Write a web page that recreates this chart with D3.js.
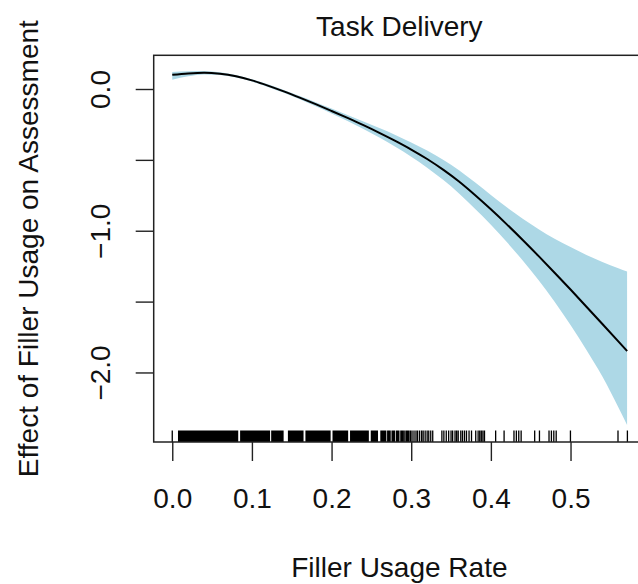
<!doctype html>
<html lang="en">
<head>
<meta charset="UTF-8">
<title>Task Delivery</title>
<style>
  body { margin: 0; background: #fff; }
  svg { display: block; font-family: "Liberation Sans", Arial, Helvetica, sans-serif; }
</style>
</head>
<body>
<svg></svg>
<script src="https://cdn.jsdelivr.net/npm/d3@7"></script>
<script>
// smooth effect estimate and its band
const rate  = [0, 0.02, 0.04, 0.06, 0.08, 0.10, 0.12, 0.14, 0.16, 0.18, 0.20, 0.22, 0.24, 0.26, 0.28,
               0.30, 0.32, 0.34, 0.36, 0.38, 0.40, 0.42, 0.44, 0.46, 0.48, 0.50, 0.52, 0.54, 0.56, 0.571];
const fit   = [0.100, 0.110, 0.115, 0.108, 0.090, 0.061, 0.024, -0.017, -0.061, -0.107, -0.155, -0.204, -0.255, -0.309, -0.366,
               -0.427, -0.494, -0.569, -0.653, -0.748, -0.849, -0.955, -1.065, -1.179, -1.296, -1.415, -1.536, -1.658, -1.781, -1.849];
const upper = [0.120, 0.126, 0.127, 0.118, 0.098, 0.069, 0.033, -0.007, -0.049, -0.093, -0.138, -0.183, -0.229, -0.276, -0.324,
               -0.377, -0.434, -0.499, -0.573, -0.658, -0.747, -0.835, -0.915, -0.989, -1.056, -1.115, -1.171, -1.220, -1.264, -1.288];
const lower = [0.065, 0.090, 0.103, 0.099, 0.082, 0.053, 0.015, -0.027, -0.073, -0.122, -0.173, -0.226, -0.282, -0.343, -0.408,
               -0.478, -0.555, -0.641, -0.737, -0.844, -0.957, -1.080, -1.210, -1.349, -1.501, -1.665, -1.841, -2.028, -2.245, -2.370];

// observed filler usage rates (rug)
const rugRates = [
  0,
  .008,.009,.010,.011,.012,.013,.014,.015,.016,.017,.018,.019,.020,.021,.022,.023,.024,.025,.026,.027,.028,.029,.030,
  .031,.032,.033,.034,.035,.036,.037,.038,.039,.040,.041,.042,.043,.044,.045,.046,.047,.048,.049,.050,.051,.052,.053,
  .054,.055,.056,.057,.058,.059,.060,.061,.062,.063,.064,.065,.066,.067,.068,.069,.070,.071,.072,.073,.074,.075,.076,
  .077,.078,.079,.080,.081,.082,
  .086,.087,.088,.089,.090,.091,.092,.093,.094,.095,.096,.097,.098,.099,.100,.101,.102,.103,.104,.105,.106,.107,.108,
  .109,.110,.111,.112,.113,.114,.115,.116,.117,.118,.119,.120,.121,.122,
  .125,.126,.127,.128,.129,.130,.131,.132,.133,.134,.135,.136,.137,.138,.139,
  .146,.147,.148,.149,.150,.151,.152,.153,.154,.155,.156,.157,.158,.159,.160,.161,.162,.163,.164,
  .168,.169,.170,.171,.172,.173,.174,.175,.176,.177,.178,.179,.180,.181,.182,.183,.184,.185,.186,.187,.188,.189,.190,
  .191,.192,.193,.194,.195,.196,.197,.198,
  .202,.203,.204,.205,.206,.207,.208,.209,.210,.211,.212,.213,.214,.215,.216,.217,.218,.219,.220,
  .224,.225,.226,.227,.228,.229,.230,.231,.232,.233,.234,.235,.236,.237,.238,.239,.240,.241,.242,.243,.244,.245,.246,
  .250,.2515,.253,.2545,.256,.2575,.262,.2635,.265,.2665,.268,.2705,.272,.2735,.276,.2775,.279,.2815,.283,.2845,
  .287,.2885,.290,.292,.294,.2955,.297,.299,.301,.3035,.306,.308,.3105,.313,.315,.3175,.320,.322,.3245,.327,
  .3385,.341,.344,.347,.350,.352,.355,.357,.359,.3622,.3644,.3669,.3694,.3726,.3757,
  .381,.384,.386,.388,.390,.392,.406,.4166,.429,.432,.435,.438,.455,.461,.473,.476,.479,.482,.4999,.5596,.5714
];

const xTicks = [0, 0.1, 0.2, 0.3, 0.4, 0.5];
const xTickLabels = ["0.0", "0.1", "0.2", "0.3", "0.4", "0.5"];
const yTicks = [0, -0.5, -1, -1.5, -2];
const yTickLabels = ["0.0", "", "\u22121.0", "", "\u22122.0"];

const width = 638, height = 584;
const plot = { left: 153.7, right: 645, top: 55.3, bottom: 442 };

const svg = d3.select("svg").attr("width", width).attr("height", height);

const x = d3.scaleLinear().domain([-0.0233, 0.5935]).range([plot.left, plot.right]);
const y = d3.scaleLinear().domain([-2.4906, 0.2378]).range([plot.bottom, plot.top]);

svg.append("clipPath").attr("id", "clip")
   .append("rect")
   .attr("x", plot.left).attr("y", plot.top)
   .attr("width", plot.right - plot.left).attr("height", plot.bottom - plot.top);

const curve = rate.map((r, i) => ({ r: r, fit: fit[i], hi: upper[i], lo: lower[i] }));

drawBand();
drawRug();
drawAxes();
drawLabels();

function drawBand() {
    const g = svg.append("g").attr("clip-path", "url(#clip)");
    g.append("path")
     .datum(curve)
     .attr("fill", "#add8e6")
     .attr("d", d3.area()
                  .curve(d3.curveMonotoneX)
                  .x(d => x(d.r))
                  .y0(d => y(d.lo))
                  .y1(d => y(d.hi)));
    g.append("path")
     .datum(curve)
     .attr("fill", "none")
     .attr("stroke", "#000")
     .attr("stroke-width", 2)
     .attr("d", d3.line()
                  .curve(d3.curveMonotoneX)
                  .x(d => x(d.r))
                  .y(d => y(d.fit)));
}

function drawRug() {
    // one path so that overlapping ticks merge into solid blocks
    const tick = (plot.bottom - plot.top) * 0.03;
    const p = d3.path();
    rugRates.forEach(d => {
        p.moveTo(x(d), plot.bottom);
        p.lineTo(x(d), plot.bottom - tick);
    });
    svg.append("path")
       .attr("d", p.toString())
       .attr("fill", "none")
       .attr("stroke", "#000")
       .attr("stroke-width", 1.3);
}

function drawAxes() {
    const xAxis = svg.append("g")
        .attr("transform", "translate(0," + plot.bottom + ")")
        .call(d3.axisBottom(x)
                .tickValues(xTicks)
                .tickFormat((d, i) => xTickLabels[i])
                .tickSize(19)
                .tickPadding(27));
    xAxis.select(".domain").remove();
    xAxis.selectAll("line").attr("stroke", "#222").attr("stroke-width", 1.4);
    xAxis.selectAll("text").attr("font-size", 28).attr("fill", "#111")
         .attr("font-family", null);

    const yAxis = svg.append("g")
        .attr("transform", "translate(" + plot.left + ",0)")
        .call(d3.axisLeft(y)
                .tickValues(yTicks)
                .tickFormat((d, i) => yTickLabels[i])
                .tickSize(18));
    yAxis.select(".domain").remove();
    yAxis.selectAll("line").attr("stroke", "#222").attr("stroke-width", 1.4);
    yAxis.selectAll("text")
         .attr("font-size", 28).attr("fill", "#111").attr("font-family", null)
         .attr("x", null).attr("dy", null)
         .attr("text-anchor", "middle")
         .attr("transform", "translate(-43.7,0) rotate(-90)");

    // plot box (right edge falls outside the picture)
    svg.append("rect")
       .attr("x", plot.left).attr("y", plot.top)
       .attr("width", plot.right - plot.left).attr("height", plot.bottom - plot.top)
       .attr("fill", "none")
       .attr("stroke", "#222")
       .attr("stroke-width", 1.5);
}

function drawLabels() {
    const cx = (plot.left + plot.right) / 2;
    svg.append("text")
       .attr("x", cx).attr("y", 36)
       .attr("text-anchor", "middle")
       .attr("font-size", 28).attr("fill", "#111")
       .text("Task Delivery");
    svg.append("text")
       .attr("x", cx).attr("y", 577)
       .attr("text-anchor", "middle")
       .attr("font-size", 28).attr("fill", "#111")
       .text("Filler Usage Rate");
    svg.append("text")
       .attr("transform", "translate(38," + ((plot.top + plot.bottom) / 2) + ") rotate(-90)")
       .attr("text-anchor", "middle")
       .attr("font-size", 28).attr("fill", "#111")
       .text("Effect of Filler Usage on Assessment");
}
</script>
</body>
</html>
